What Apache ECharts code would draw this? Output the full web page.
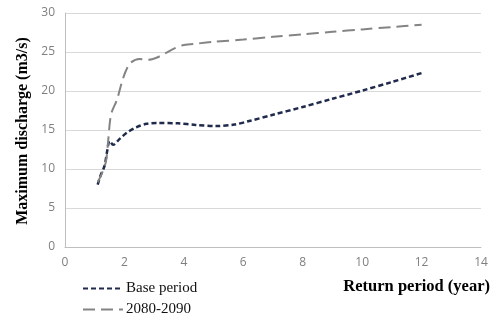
<!DOCTYPE html>
<html>
<head>
<meta charset="utf-8">
<script src="https://cdn.jsdelivr.net/npm/echarts@6/dist/echarts.min.js"></script>
<style>html,body{margin:0;padding:0;background:#fff;}#c{width:496px;height:320px;}</style>
</head>
<body>
<div id="c"></div>
<script>
const seriesNames = ['Base period', '2080-2090'];
const baseX = [1.1, 1.2, 1.33, 1.42, 1.5, 1.62, 1.85, 2.1, 2.4, 2.75, 3.1, 3.8, 4.4, 5.1, 5.7, 6.2, 7, 8, 9, 10, 11, 12];
const baseY = [8.0, 9.2, 10.4, 12.3, 13.6, 13.1, 13.9, 14.7, 15.35, 15.8, 15.9, 15.85, 15.65, 15.5, 15.7, 16.15, 16.95, 17.95, 19.0, 20.05, 21.15, 22.3];
const futX = [1.1, 1.25, 1.38, 1.45, 1.55, 1.75, 1.92, 2.05, 2.2, 2.5, 2.8, 3.1, 3.4, 3.7, 4.0, 4.5, 5, 6, 7, 8, 9, 10, 11, 12];
const futY = [8.3, 9.5, 11.0, 13.5, 17.0, 18.9, 21.2, 22.6, 23.6, 24.1, 24.0, 24.3, 24.9, 25.5, 25.9, 26.1, 26.3, 26.6, 26.95, 27.25, 27.6, 27.9, 28.2, 28.5];
const xTicks = {min: 0, max: 14, interval: 2};
const yTicks = {min: 0, max: 30, interval: 5};

const zip = (xs, ys) => xs.map((x, i) => [x, ys[i]]);
const legendBase = {
  orient: 'vertical', left: 82, itemWidth: 40, itemHeight: 12, padding: 0,
  itemStyle: {opacity: 0},
  textStyle: {fontFamily: 'Liberation Serif', fontSize: 15, color: '#111', padding: [0, 0, 0, -2]}
};
const chart = echarts.init(document.getElementById('c'));
chart.setOption({
  animation: false,
  backgroundColor: '#fff',
  grid: {left: 65, right: 15, top: 13, bottom: 73},
  xAxis: {
    type: 'value', min: xTicks.min, max: xTicks.max, interval: xTicks.interval,
    axisLine: {show: true, lineStyle: {color: '#bfbfbf', width: 1}},
    axisTick: {show: false},
    splitLine: {show: false},
    axisLabel: {color: '#7f7f7f', fontFamily: 'Open Sans', fontSize: 12, margin: 10}
  },
  yAxis: {
    type: 'value', min: yTicks.min, max: yTicks.max, interval: yTicks.interval,
    axisLine: {show: true, lineStyle: {color: '#bfbfbf', width: 1}},
    axisTick: {show: false},
    splitLine: {show: true, lineStyle: {color: '#d9d9d9', width: 1}},
    axisLabel: {color: '#7f7f7f', fontFamily: 'Open Sans', fontSize: 12, margin: 10}
  },
  legend: [
    Object.assign({}, legendBase, {top: 281, data: [seriesNames[0]]}),
    Object.assign({}, legendBase, {top: 302, data: [seriesNames[1]]})
  ],
  graphic: [
    {type: 'text', style: {text: 'Maximum discharge (m3/s)', font: 'bold 16px "Liberation Serif"', fill: '#000', textAlign: 'center', textVerticalAlign: 'middle'}, x: 23, y: 131, rotation: Math.PI / 2},
    {type: 'text', style: {text: 'Return period (year)', font: 'bold 16.5px "Liberation Serif"', fill: '#000', textAlign: 'right', textVerticalAlign: 'middle'}, x: 490, y: 287}
  ],
  series: [
    {name: seriesNames[0], type: 'line', data: zip(baseX, baseY), smooth: 0.3, symbol: 'none',
     lineStyle: {color: '#1f2a4d', width: 2.5, type: [5, 3]}, itemStyle: {color: '#1f2a4d'}},
    {name: seriesNames[1], type: 'line', data: zip(futX, futY), smooth: 0.3, symbol: 'none',
     lineStyle: {color: '#848484', width: 2, type: [12, 6]}, itemStyle: {color: '#848484'}}
  ]
});
</script>
</body>
</html>
